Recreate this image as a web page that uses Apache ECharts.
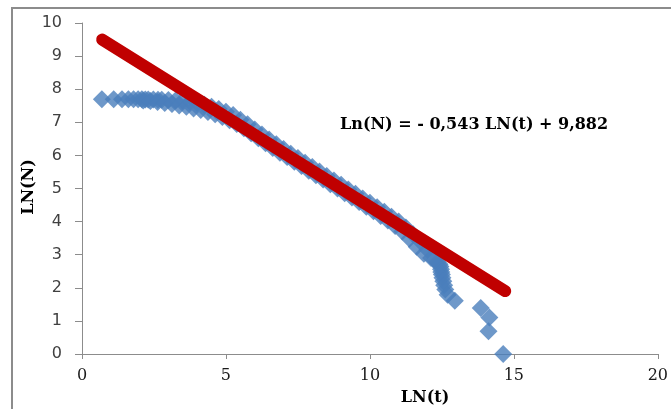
<!DOCTYPE html>
<html>
<head>
<meta charset="utf-8">
<script src="https://cdn.jsdelivr.net/npm/echarts@6/dist/echarts.min.js"></script>
<style>
html,body{margin:0;padding:0;background:#fff;overflow:hidden;}
#chart{width:671px;height:409px;}
</style>
</head>
<body>
<div id="chart"></div>
<script>
// Upper edge of the scatter band (LN(t), LN(N))
var upperT = [0.69,1.10,1.39,1.61,1.79,1.95,2.08,2.20,2.30,2.48,2.64,2.77,3.00,3.25,3.50,3.75,4.00,4.25,4.50,4.75,5.00,5.25,5.50,5.75,6.00,6.25,6.50,6.75,7.00,7.25,7.50,7.75,8.00,8.25,8.50,8.75,9.00,9.25,9.50,9.75,10.00,10.25,10.50,10.75,11.00,11.25,11.50,11.75,12.00];
var upperN = [7.70,7.70,7.70,7.70,7.70,7.70,7.70,7.69,7.69,7.69,7.68,7.68,7.67,7.66,7.65,7.62,7.58,7.53,7.47,7.40,7.32,7.22,7.08,6.94,6.78,6.63,6.48,6.34,6.19,6.05,5.92,5.78,5.65,5.51,5.38,5.24,5.11,4.97,4.84,4.70,4.57,4.43,4.30,4.15,4.00,3.82,3.62,3.40,3.15];
// Lower edge of the scatter band
var lowerT = [2.125,2.375,2.625,2.875,3.125,3.375,3.625,3.875,4.125,4.375,4.625,4.875,5.125,5.375,5.625,5.875,6.125,6.375,6.625,6.875,7.125,7.375,7.625,7.875,8.125,8.375,8.625,8.875,9.125,9.375,9.625,9.875,10.125,10.375,10.625,10.875,11.125,11.375,11.625,11.875,12.125];
var lowerN = [7.66,7.64,7.61,7.58,7.55,7.51,7.47,7.42,7.37,7.31,7.24,7.16,7.06,6.95,6.82,6.67,6.52,6.37,6.22,6.08,5.95,5.81,5.68,5.54,5.40,5.27,5.13,5.00,4.86,4.73,4.59,4.45,4.31,4.17,4.03,3.87,3.70,3.48,3.24,3.03,2.90];
// Tail (drop-off and isolated points)
var tailT = [12.25,12.35,12.42,12.45,12.47,12.48,12.50,12.52,12.55,12.58,12.62,12.70,12.95,13.85,14.15,14.12,14.63];
var tailN = [2.83,2.77,2.71,2.64,2.56,2.48,2.40,2.30,2.20,2.08,1.95,1.79,1.61,1.39,1.10,0.69,0.00];
// Fitted line: Ln(N) = -0.543 LN(t) + 9.882
var fitT = [0.70, 14.70];
var fitN = [9.50, 1.90];
var equationText = 'Ln(N) = - 0,543 LN(t) + 9,882';
var xTitle = 'LN(t)';
var yTitle = 'LN(N)';

function pairs(a, b) { return a.map(function (v, i) { return [v, b[i]]; }); }
var scatterData = pairs(upperT, upperN).concat(pairs(lowerT, lowerN)).concat(pairs(tailT, tailN));

var chart = echarts.init(document.getElementById('chart'), null, {renderer: 'canvas'});
chart.setOption({
  animation: false,
  backgroundColor: '#ffffff',
  grid: {left: 82, right: 13, top: 23, bottom: 55, containLabel: false},
  xAxis: {
    type: 'value', min: 0, max: 20, interval: 5,
    axisLine: {show: true, onZero: false, lineStyle: {color: '#8c8c8c', width: 1}},
    axisTick: {show: true, inside: false, length: 5, lineStyle: {color: '#8c8c8c'}},
    splitLine: {show: false},
    axisLabel: {fontFamily: 'DejaVu Serif', fontSize: 16, color: '#1a1a1a', margin: 14}
  },
  yAxis: {
    type: 'value', min: 0, max: 10, interval: 1,
    axisLine: {show: true, onZero: false, lineStyle: {color: '#8c8c8c', width: 1}},
    axisTick: {show: true, inside: false, length: 7, lineStyle: {color: '#8c8c8c'}},
    splitLine: {show: false},
    axisLabel: {fontFamily: 'DejaVu Sans', fontSize: 16, color: '#404040', margin: 20}
  },
  series: [
    {
      type: 'scatter', data: scatterData, symbol: 'diamond', symbolSize: 18,
      itemStyle: {color: '#4a7ebb'}, clip: false, z: 2
    },
    {
      type: 'line', data: pairs(fitT, fitN), symbol: 'none', z: 3,
      lineStyle: {color: '#c00000', width: 12, cap: 'round'}
    }
  ],
  graphic: [
    {type: 'polyline', shape: {points: [[12, 420], [12, 8], [690, 8]]},
     style: {fill: null, stroke: '#8c8c8c', lineWidth: 2}, z: 0, silent: true},
    {type: 'text', x: 340, y: 125,
     style: {text: equationText, font: 'bold 16px "DejaVu Serif"', fill: '#000', textVerticalAlign: 'middle'}},
    {type: 'text', x: 425, y: 398,
     style: {text: xTitle, font: 'bold 16px "DejaVu Serif"', fill: '#000', textAlign: 'center', textVerticalAlign: 'middle'}},
    {type: 'text', x: 29, y: 187, rotation: Math.PI / 2,
     style: {text: yTitle, font: 'bold 16px "DejaVu Serif"', fill: '#000', textAlign: 'center', textVerticalAlign: 'middle'}}
  ]
});
</script>
</body>
</html>
